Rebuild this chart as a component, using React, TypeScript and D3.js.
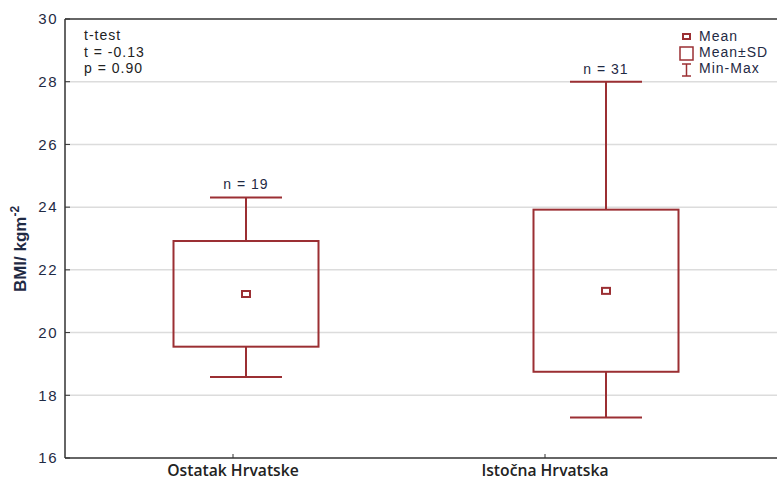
import React from "react";
import * as d3 from "d3";

const categories = ["Ostatak Hrvatske", "Istočna Hrvatska"];
const means = [21.23, 21.33];
const sdLow = [19.55, 18.75];
const sdHigh = [22.92, 23.92];
const mins = [18.58, 17.29];
const maxs = [24.31, 28.0];
const counts = [19, 31];
const yTicks = [16, 18, 20, 22, 24, 26, 28, 30];
const annotation = ["t-test", "t = -0.13", "p = 0.90"];
const legendItems = ["Mean", "Mean±SD", "Min-Max"];

const W = 777;
const H = 482;
const left = 65;
const top = 19;
const bottom = 458;
const right = 790;
const RED = "#9b2f33";
const TXT = "#1f2a44";

export default function App() {
  const y = d3.scaleLinear().domain([16, 30]).range([bottom, top]);
  const xBox = d3.scaleLinear().domain([-0.5, 1.5]).range([66, 786]);
  const xLab = d3.scaleLinear().domain([0, 1]).range([233, 545]);
  const boxW = 145;
  const capW = 72;
  return (
    <svg width={W} height={H} style={{ position: "absolute", left: 0, top: 0, background: "#fff" }}>
      {yTicks.map((t) => (
        <g key={t}>
          {t !== 16 && t !== 30 && (
            <line x1={left} x2={W} y1={y(t)} y2={y(t)} stroke="#dcdcdc" strokeWidth={1.5} />
          )}
          <line x1={left} x2={left + 5} y1={y(t)} y2={y(t)} stroke="#333" strokeWidth={1} />
          <text x={58} y={y(t)} dy="0.35em" textAnchor="end" fontFamily="Liberation Sans, Arial" fontSize={15} letterSpacing={1.5} fill={TXT}>
            {t}
          </text>
        </g>
      ))}
      <line x1={left} x2={left} y1={top} y2={bottom} stroke="#333" strokeWidth={1.5} />
      <line x1={left} x2={right} y1={top} y2={top} stroke="#333" strokeWidth={1.5} />
      <line x1={left} x2={right} y1={bottom} y2={bottom} stroke="#333" strokeWidth={1.5} />
      {categories.map((c, i) => (
        <g key={c}>
          <line x1={xLab(i)} x2={xLab(i)} y1={bottom} y2={bottom - 4} stroke="#333" strokeWidth={1} />
          <text x={xLab(i)} y={476} textAnchor="middle" fontFamily="Open Sans, Liberation Sans" fontWeight={600} fontSize={15.7} fill="#222">
            {c}
          </text>
        </g>
      ))}
      {categories.map((c, i) => {
        const cx = xBox(i);
        return (
          <g key={"b" + c} stroke={RED} strokeWidth={2} fill="none">
            <line x1={cx} x2={cx} y1={y(maxs[i])} y2={y(sdHigh[i])} />
            <line x1={cx} x2={cx} y1={y(sdLow[i])} y2={y(mins[i])} />
            <line x1={cx - capW / 2} x2={cx + capW / 2} y1={y(maxs[i])} y2={y(maxs[i])} />
            <line x1={cx - capW / 2} x2={cx + capW / 2} y1={y(mins[i])} y2={y(mins[i])} />
            <rect x={cx - boxW / 2} y={y(sdHigh[i])} width={boxW} height={y(sdLow[i]) - y(sdHigh[i])} />
            <rect x={cx - 4} y={y(means[i]) - 3} width={8} height={6} />
            <text x={cx} y={y(maxs[i]) - 8} textAnchor="middle" stroke="none" fill={TXT} fontFamily="Liberation Sans, Arial" fontSize={14} letterSpacing={1}>
              {"n = " + counts[i]}
            </text>
          </g>
        );
      })}
      <g fontFamily="Liberation Sans, Arial" fontSize={14} letterSpacing={1} fill="#222">
        {annotation.map((a, i) => (
          <text key={a} x={84} y={40 + i * 16.5}>{a}</text>
        ))}
      </g>
      <g fontFamily="Liberation Sans, Arial" fontSize={14} letterSpacing={1} fill={TXT}>
        <rect x={683} y={34} width={7} height={5} fill="none" stroke={RED} strokeWidth={2} />
        <rect x={680} y={47} width={13} height={13} fill="none" stroke={RED} strokeWidth={1.5} />
        <line x1={686.5} x2={686.5} y1={64} y2={76} stroke={RED} strokeWidth={1.5} />
        <line x1={682} x2={691} y1={64} y2={64} stroke={RED} strokeWidth={1.5} />
        <line x1={682} x2={691} y1={76} y2={76} stroke={RED} strokeWidth={1.5} />
        {legendItems.map((l, i) => (
          <text key={l} x={699} y={41 + i * 16}>{l}</text>
        ))}
      </g>
      <text
        transform={`translate(26, ${249}) rotate(-90)`}
        textAnchor="middle"
        fontFamily="Liberation Sans, Arial"
        fontWeight="bold"
        fontSize={17}
        fill={TXT}
      >
        BMI/ kgm<tspan dy={-7} fontSize={12}>-2</tspan>
      </text>
    </svg>
  );
}
